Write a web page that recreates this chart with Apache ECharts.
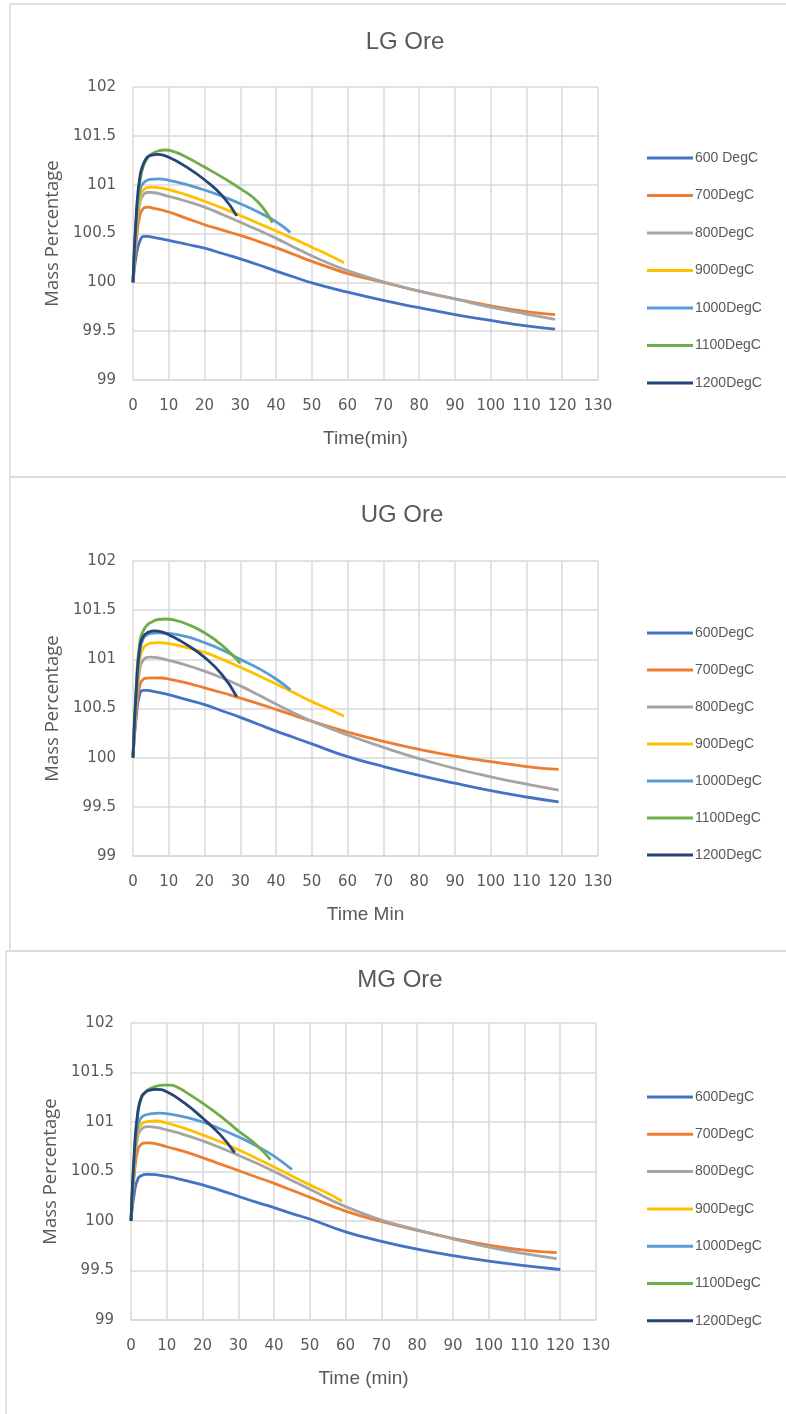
<!DOCTYPE html>
<html>
<head>
<meta charset="utf-8">
<script src="https://cdn.jsdelivr.net/npm/echarts@6/dist/echarts.min.js"></script>
<style>
html,body{margin:0;padding:0;background:#fff;}
#chart{width:786px;height:1414px;}
</style>
</head>
<body>
<div id="chart"></div>
<script>
// ---- Data (time in min, mass percentage) ----
const panelTitles = ['LG Ore', 'UG Ore', 'MG Ore'];
const xAxisNames = ['Time(min)', 'Time Min', 'Time (min)'];
const yAxisName = 'Mass Percentage';
const xTicks = [0, 10, 20, 30, 40, 50, 60, 70, 80, 90, 100, 110, 120, 130];
const yTicks = [99, 99.5, 100, 100.5, 101, 101.5, 102];

const lgNames = ['600 DegC', '700DegC', '800DegC', '900DegC', '1000DegC', '1100DegC', '1200DegC'];
const ugNames = ['600DegC', '700DegC', '800DegC', '900DegC', '1000DegC', '1100DegC', '1200DegC'];
const mgNames = ['600DegC', '700DegC', '800DegC', '900DegC', '1000DegC', '1100DegC', '1200DegC'];

// LG Ore
const lg600 = [[0,100],[1,100.3],[2,100.43],[3,100.47],[4,100.47],[5,100.465],[10,100.43],[15,100.39],[20,100.35],[25,100.295],[30,100.24],[35,100.18],[40,100.115],[45,100.055],[50,99.995],[60,99.9],[70,99.815],[80,99.74],[90,99.67],[100,99.61],[110,99.555],[118,99.52]];
const lg700 = [[0,100],[1,100.45],[2,100.7],[3,100.76],[4,100.77],[5,100.765],[10,100.72],[15,100.655],[20,100.59],[25,100.535],[30,100.48],[35,100.42],[40,100.355],[45,100.285],[50,100.215],[55,100.15],[60,100.09],[70,100.0],[80,99.91],[90,99.83],[100,99.76],[110,99.7],[118,99.67]];
const lg800 = [[0,100],[1,100.55],[2,100.83],[3,100.9],[4,100.92],[5,100.92],[10,100.88],[15,100.83],[20,100.77],[25,100.695],[30,100.615],[35,100.535],[40,100.45],[45,100.36],[50,100.27],[55,100.19],[60,100.12],[70,100.005],[80,99.91],[90,99.83],[100,99.745],[110,99.675],[118,99.62]];
const lg900 = [[0,100],[1,100.6],[2,100.88],[3,100.95],[4,100.97],[5,100.975],[7,100.97],[10,100.95],[15,100.895],[20,100.83],[25,100.76],[30,100.685],[35,100.605],[40,100.525],[45,100.445],[50,100.36],[55,100.275],[59,100.2]];
const lg1000 = [[0,100],[1,100.65],[2,100.95],[3,101.02],[4,101.045],[5,101.055],[7,101.06],[10,101.045],[15,101.0],[20,100.945],[25,100.88],[30,100.805],[35,100.72],[40,100.62],[44,100.51]];
const lg1100 = [[0,100],[1,100.7],[2,101.05],[3,101.2],[4,101.27],[5,101.31],[7,101.345],[9,101.355],[12,101.33],[15,101.28],[20,101.18],[25,101.075],[30,100.96],[35,100.82],[39,100.61]];
const lg1200 = [[0,100],[1,100.75],[2,101.1],[3,101.22],[4,101.28],[5,101.3],[7,101.31],[10,101.28],[15,101.18],[20,101.05],[25,100.885],[29,100.68]];

// UG Ore
const ug600 = [[0,100],[1,100.45],[2,100.66],[3,100.685],[4,100.685],[5,100.68],[10,100.64],[15,100.59],[20,100.54],[25,100.475],[30,100.41],[35,100.34],[40,100.27],[45,100.205],[50,100.14],[60,100.01],[70,99.91],[80,99.82],[90,99.74],[100,99.665],[110,99.6],[119,99.55]];
const ug700 = [[0,100],[1,100.5],[2,100.75],[3,100.8],[4,100.81],[5,100.812],[8,100.81],[10,100.8],[15,100.76],[20,100.71],[25,100.66],[30,100.605],[35,100.55],[40,100.49],[45,100.43],[50,100.37],[60,100.26],[70,100.165],[80,100.085],[90,100.015],[100,99.96],[110,99.91],[119,99.88]];
const ug800 = [[0,100],[1,100.6],[2,100.92],[3,101.0],[4,101.02],[5,101.022],[7,101.015],[10,100.99],[15,100.94],[20,100.88],[25,100.81],[30,100.73],[35,100.64],[40,100.545],[45,100.455],[50,100.37],[60,100.23],[70,100.105],[80,99.99],[90,99.89],[100,99.805],[110,99.73],[119,99.67]];
const ug900 = [[0,100],[1,100.65],[2,101.02],[3,101.12],[4,101.15],[5,101.165],[7,101.17],[10,101.16],[15,101.12],[20,101.07],[25,101.0],[30,100.92],[35,100.835],[40,100.75],[45,100.66],[50,100.57],[55,100.49],[59,100.42]];
const ug1000 = [[0,100],[1,100.7],[2,101.1],[3,101.22],[4,101.25],[5,101.265],[7,101.27],[10,101.265],[15,101.23],[20,101.17],[25,101.095],[30,101.0],[35,100.91],[40,100.8],[44,100.69]];
const ug1100 = [[0,100],[1,100.8],[2,101.2],[3,101.3],[4,101.35],[5,101.375],[7,101.405],[9,101.41],[12,101.395],[15,101.36],[20,101.27],[25,101.14],[30,100.96]];
const ug1200 = [[0,100],[1,100.75],[2,101.15],[3,101.24],[4,101.27],[6,101.29],[8,101.28],[10,101.25],[15,101.15],[20,101.02],[25,100.84],[29,100.62]];

// MG Ore
const mg600 = [[0,100],[1,100.3],[2,100.43],[3,100.46],[4,100.47],[5,100.47],[10,100.45],[15,100.41],[20,100.365],[25,100.31],[30,100.25],[35,100.19],[40,100.135],[45,100.075],[50,100.02],[60,99.89],[70,99.795],[80,99.715],[90,99.65],[100,99.595],[110,99.55],[120,99.51]];
const mg700 = [[0,100],[1,100.5],[2,100.73],[3,100.78],[4,100.79],[5,100.79],[7,100.78],[10,100.75],[15,100.7],[20,100.64],[25,100.575],[30,100.51],[35,100.445],[40,100.38],[45,100.31],[50,100.24],[60,100.1],[70,99.995],[80,99.905],[90,99.825],[100,99.755],[110,99.705],[119,99.68]];
const mg800 = [[0,100],[1,100.6],[2,100.87],[3,100.93],[4,100.95],[5,100.953],[7,100.945],[10,100.92],[15,100.87],[20,100.81],[25,100.74],[30,100.665],[35,100.585],[40,100.5],[45,100.41],[50,100.32],[60,100.145],[70,100.01],[80,99.91],[90,99.82],[100,99.735],[110,99.67],[119,99.62]];
const mg900 = [[0,100],[1,100.62],[2,100.92],[3,100.98],[4,101.0],[5,101.007],[7,101.01],[10,100.99],[15,100.935],[20,100.87],[25,100.8],[30,100.72],[35,100.635],[40,100.545],[45,100.455],[50,100.365],[55,100.28],[59,100.2]];
const mg1000 = [[0,100],[1,100.65],[2,100.98],[3,101.05],[4,101.07],[5,101.08],[8,101.09],[10,101.085],[15,101.05],[20,101.0],[25,100.93],[30,100.85],[35,100.76],[40,100.655],[45,100.52]];
const mg1100 = [[0,100],[1,100.7],[2,101.1],[3,101.25],[4,101.3],[5,101.33],[7,101.36],[9,101.372],[11,101.372],[13,101.35],[15,101.31],[20,101.19],[25,101.06],[30,100.91],[35,100.77],[39,100.62]];
const mg1200 = [[0,100],[1,100.75],[2,101.13],[3,101.26],[4,101.3],[5,101.32],[7,101.33],[10,101.305],[15,101.19],[20,101.04],[25,100.87],[29,100.69]];

const seriesColors = ['#4472C4', '#ED7D31', '#A5A5A5', '#FFC000', '#5B9BD5', '#70AD47', '#264478'];

// ---- Layout ----
const panels = [
  { names: lgNames, data: [lg600, lg700, lg800, lg900, lg1000, lg1100, lg1200],
    grid: { left: 133, top: 87, width: 465, height: 293 }, titleX: 405, titleTop: 30,
    legendTop: 150, legendGap: 21.5, border: { x: 10, y: 4, h: 473 } },
  { names: ugNames, data: [ug600, ug700, ug800, ug900, ug1000, ug1100, ug1200],
    grid: { left: 133, top: 561, width: 465, height: 295 }, titleX: 402, titleTop: 503,
    legendTop: 625, legendGap: 21, border: { x: 10, y: 477, h: 474 } },
  { names: mgNames, data: [mg600, mg700, mg800, mg900, mg1000, mg1100, mg1200],
    grid: { left: 131, top: 1023, width: 465, height: 297 }, titleX: 400, titleTop: 968,
    legendTop: 1089, legendGap: 21.3, border: { x: 6, y: 951, h: 470 } }
];

const FONT = 'Liberation Sans';
const TXT = '#595959';
const GRIDC = '#d9d9d9';

const option = {
  backgroundColor: '#ffffff',
  animation: false,
  title: [], grid: [], xAxis: [], yAxis: [], legend: [], series: [], graphic: []
};

panels.forEach((p, i) => {
  option.graphic.push({
    type: 'rect', silent: true, z: -10,
    shape: { x: p.border.x, y: p.border.y, width: 900, height: p.border.h },
    style: { fill: 'none', stroke: GRIDC, lineWidth: 1.5 }
  });
  option.title.push({
    text: panelTitles[i], left: p.titleX, top: p.titleTop, textAlign: 'center', padding: 0,
    textStyle: { fontFamily: FONT, fontSize: 24, fontWeight: 'normal', color: TXT }
  });
  option.grid.push(Object.assign({ containLabel: false }, p.grid));
  option.xAxis.push({
    type: 'value', gridIndex: i, min: xTicks[0], max: xTicks[xTicks.length - 1], interval: 10,
    name: xAxisNames[i], nameLocation: 'middle', nameGap: 49,
    nameTextStyle: { fontFamily: FONT, fontSize: 19, color: TXT },
    axisLine: { show: true, lineStyle: { color: GRIDC, width: 1.5 } },
    axisTick: { show: false },
    axisLabel: { fontFamily: 'DejaVu Sans', fontSize: 15, color: TXT, margin: 19 },
    splitLine: { show: true, lineStyle: { color: GRIDC, width: 1.5 } }
  });
  option.yAxis.push({
    type: 'value', gridIndex: i, min: yTicks[0], max: yTicks[yTicks.length - 1], interval: 0.5,
    name: yAxisName, nameLocation: 'middle', nameGap: 68,
    nameTextStyle: { fontFamily: 'Open Sans', fontSize: 18.5, color: TXT },
    axisLine: { show: false }, axisTick: { show: false },
    axisLabel: { fontFamily: 'DejaVu Sans', fontSize: 15, color: TXT, margin: 17 },
    splitLine: { show: true, lineStyle: { color: GRIDC, width: 1.5 } }
  });
  option.legend.push({
    orient: 'vertical', left: 647, top: p.legendTop, padding: 0, itemGap: p.legendGap,
    itemWidth: 46, itemHeight: 3, icon: 'rect', data: p.names, selectedMode: false,
    textStyle: { fontFamily: FONT, fontSize: 14, color: TXT, lineHeight: 16, padding: [0, 0, 0, -3] }
  });
  p.data.forEach((d, k) => {
    option.series.push({
      type: 'line', name: p.names[k], xAxisIndex: i, yAxisIndex: i, data: d,
      showSymbol: false, symbol: 'none', smooth: 0.5,
      color: seriesColors[k],
      lineStyle: { width: 2.8, color: seriesColors[k] }
    });
  });
});

const chart = echarts.init(document.getElementById('chart'), null, { renderer: 'canvas' });
chart.setOption(option);
</script>
</body>
</html>
